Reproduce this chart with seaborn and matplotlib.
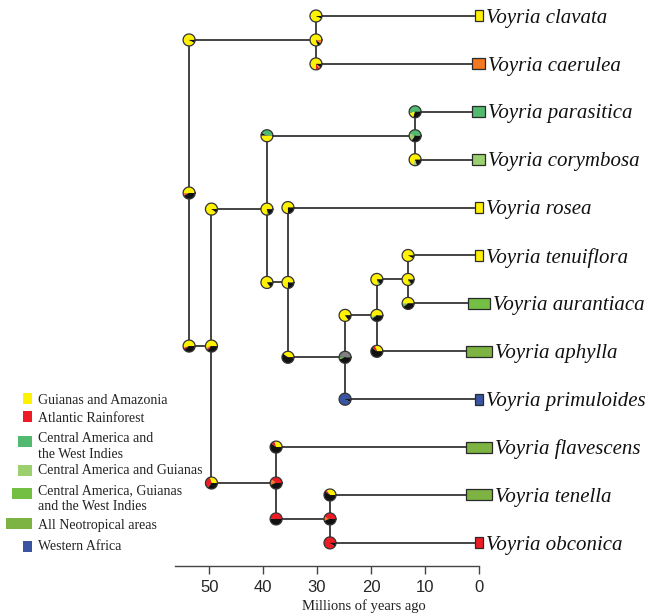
import numpy as np
import pandas as pd
import seaborn as sns
import matplotlib.pyplot as plt
from matplotlib.patches import Rectangle

# --- data -------------------------------------------------------------
tips = ["Voyria clavata", "Voyria caerulea", "Voyria parasitica", "Voyria corymbosa",
        "Voyria rosea", "Voyria tenuiflora", "Voyria aurantiaca", "Voyria aphylla",
        "Voyria primuloides", "Voyria flavescens", "Voyria tenella", "Voyria obconica"]
tip_area = ["Y", "O", "G", "L", "Y", "Y", "C", "N", "B", "N", "N", "R"]
tip_n_areas = [1, 2, 2, 2, 1, 1, 3, 4, 1, 4, 4, 1]

node_names = ["root", "n_cc", "n_B", "n_C", "n_pc", "n_D", "n_E", "n_F", "n_G", "n_ob", "n_H"]
node_ages = [53.75, 30.2, 49.6, 39.3, 11.8, 35.4, 24.8, 18.9, 13.1, 37.6, 27.6]
node_children = [("n_cc", "n_B"),
                 ("Voyria clavata", "Voyria caerulea"),
                 ("n_C", "n_ob"),
                 ("n_pc", "n_D"),
                 ("Voyria parasitica", "Voyria corymbosa"),
                 ("Voyria rosea", "n_E"),
                 ("n_F", "Voyria primuloides"),
                 ("n_G", "Voyria aphylla"),
                 ("Voyria tenuiflora", "Voyria aurantiaca"),
                 ("Voyria flavescens", "n_H"),
                 ("Voyria tenella", "Voyria obconica")]

# ancestral range probabilities: at the node, and at the start of each daughter branch
node_pie = [
    [("Y", .50), ("O", .05), ("R", .03), ("K", .42)],
    [("Y", .80), ("K", .10), ("O", .10)],
    [("Y", .55), ("O", .04), ("R", .04), ("K", .37)],
    [("Y", .75), ("G", .05), ("K", .20)],
    [("G", .45), ("L", .20), ("K", .35)],
    [("Y", .75), ("K", .25)],
    [("S", .48), ("G", .04), ("C", .04), ("K", .44)],
    [("Y", .55), ("G", .05), ("K", .40)],
    [("Y", .80), ("C", .05), ("K", .15)],
    [("R", .40), ("O", .15), ("K", .45)],
    [("R", .45), ("O", .10), ("K", .45)],
]
corner_pie_first = [
    [("Y", .92), ("K", .08)],
    [("Y", .93), ("K", .07)],
    [("Y", .90), ("K", .10)],
    [("G", .42), ("K", .08), ("Y", .50)],
    [("G", .55), ("Y", .15), ("K", .30)],
    [("Y", .75), ("K", .25)],
    [("Y", .85), ("K", .15)],
    [("Y", .80), ("G", .05), ("K", .15)],
    [("Y", .92), ("K", .08)],
    [("Y", .30), ("R", .10), ("K", .60)],
    [("Y", .35), ("R", .05), ("K", .60)],
]
corner_pie_second = [
    [("Y", .55), ("R", .05), ("K", .40)],
    [("Y", .75), ("R", .10), ("O", .05), ("K", .10)],
    [("Y", .30), ("R", .35), ("K", .35)],
    [("Y", .85), ("K", .15)],
    [("Y", .70), ("L", .10), ("K", .20)],
    [("Y", .40), ("K", .60)],
    [("B", .92), ("K", .08)],
    [("Y", .30), ("R", .10), ("K", .60)],
    [("Y", .50), ("C", .10), ("K", .40)],
    [("R", .50), ("K", .50)],
    [("R", .90), ("K", .10)],
]

legend_labels = ["Guianas and Amazonia", "Atlantic Rainforest",
                 "Central America and\nthe West Indies", "Central America and Guianas",
                 "Central America, Guianas\nand the West Indies", "All Neotropical areas",
                 "Western Africa"]
legend_area = ["Y", "R", "G", "L", "C", "N", "B"]
legend_n_areas = [1, 1, 2, 2, 3, 4, 1]

time_ticks = [50, 40, 30, 20, 10, 0]

# --- style ------------------------------------------------------------
colors = {"Y": "#fff200", "R": "#ed1c24", "O": "#f47920", "G": "#52b970",
          "L": "#9ccf6e", "C": "#72bf44", "N": "#7cb342", "B": "#3a54a4",
          "K": "#111111", "S": "#808080"}
box_w_px = {1: 8, 2: 13, 3: 22, 4: 26}
legend_box_w_px = {1: 9, 2: 14, 3: 20, 4: 26}

W, H = 651, 616
PX_PER_MY = 5.388
X0_PX = 478.7          # pixel of age 0
Y0_PX, TIP_STEP = 16.0, 47.9
PIE_R = 6.0

sns.set_style("white")
plt.rcParams["font.family"] = ["Liberation Serif", "DejaVu Serif"]

fig = plt.figure(figsize=(W / 100, H / 100), dpi=100)
ax = fig.add_axes([0, 0, 1, 1])

# --- tree geometry ------------------------------------------------------
age = {t: 0.0 for t in tips}
age.update(dict(zip(node_names, node_ages)))
kids = dict(zip(node_names, node_children))
ypos = {t: float(i) for i, t in enumerate(tips)}


def get_y(name):
    if name not in ypos:
        a, b = kids[name]
        ypos[name] = (get_y(a) + get_y(b)) / 2
    return ypos[name]


get_y("root")

rows = []
seg = 0
for n in node_names:
    a, b = kids[n]
    rows += [(seg, age[n], ypos[a]), (seg, age[n], ypos[b])]
    seg += 1
    for c in (a, b):
        rows += [(seg, age[n], ypos[c]), (seg, age[c], ypos[c])]
        seg += 1
segs = pd.DataFrame(rows, columns=["seg", "age", "y"])
sns.lineplot(data=segs, x="age", y="y", units="seg", estimator=None, sort=False,
             color="#111111", lw=1.1, ax=ax, legend=False, zorder=1)
ax.set_xlim(X0_PX / PX_PER_MY, (X0_PX - W) / PX_PER_MY)
ax.set_ylim((H - Y0_PX) / TIP_STEP, -Y0_PX / TIP_STEP)
ax.axis("off")

rx = PIE_R / PX_PER_MY
ry = PIE_R / TIP_STEP


def draw_pie(x, y, parts):
    tot = sum(f for _, f in parts)
    start = 0.0
    for state, f in parts:
        span = 2 * np.pi * f / tot
        t = np.linspace(start, start + span, 40)
        xs = np.r_[x, x - rx * np.cos(t), x]
        ys = np.r_[y, y - ry * np.sin(t), y]
        ax.fill(xs, ys, color=colors[state], lw=0, zorder=3)
        start += span
    t = np.linspace(0, 2 * np.pi, 80)
    ax.plot(x - rx * np.cos(t), y - ry * np.sin(t), color="#333333", lw=0.9, zorder=4)


for i, n in enumerate(node_names):
    a, b = kids[n]
    draw_pie(age[n], ypos[n], node_pie[i])
    draw_pie(age[n], ypos[a], corner_pie_first[i])
    draw_pie(age[n], ypos[b], corner_pie_second[i])

# tip range boxes and names
box_h = 11 / TIP_STEP
for i, t in enumerate(tips):
    w = box_w_px[tip_n_areas[i]] / PX_PER_MY
    ax.add_patch(Rectangle((w / 2, i - box_h / 2), -w, box_h,
                           facecolor=colors[tip_area[i]], edgecolor="#2a2a2a",
                           lw=0.9, zorder=2))
    ax.text(-(box_w_px[tip_n_areas[i]] / 2 + 3) / PX_PER_MY, i + 0.045, t,
            fontsize=15, style="italic", ha="left", va="center", color="#111111")

# legend
leg_y_px = [398.5, 416.5, 441.5, 470.5, 493, 523.5, 546]
for lab, a, n, yp in zip(legend_labels, legend_area, legend_n_areas, leg_y_px):
    w = legend_box_w_px[n]
    fig.patches.append(Rectangle(((32 - w) / W, 1 - (yp + 5.5) / H), w / W, 11 / H,
                                 transform=fig.transFigure, facecolor=colors[a],
                                 edgecolor="none"))
for lab, yp in zip(legend_labels, [401, 419, 446, 471, 498.5, 525, 547]):
    fig.text(38 / W, 1 - yp / H, lab, fontsize=10, ha="left", va="center",
             linespacing=1.3, color="#222222")

# time axis
ax2 = fig.add_axes([175 / W, 1 - 566 / H, (X0_PX - 175) / W, 0.001])
ax2.set_xlim((X0_PX - 175) / PX_PER_MY, 0)
ax2.set_yticks([])
ax2.set_facecolor("none")
for s in ["top", "left", "right"]:
    ax2.spines[s].set_visible(False)
ax2.spines["bottom"].set_color("#444444")
ax2.spines["bottom"].set_linewidth(1.0)
ax2.set_xticks(time_ticks)
ax2.set_xticklabels([str(v) for v in time_ticks], family="Liberation Sans", fontsize=12)
ax2.tick_params(axis="x", direction="out", length=6, width=1, color="#444444",
                pad=4, bottom=True)
fig.text(364 / W, 1 - 606 / H, "Millions of years ago", fontsize=10.5,
         ha="center", va="center", color="#222222")

fig.savefig("out.png", dpi=100)
